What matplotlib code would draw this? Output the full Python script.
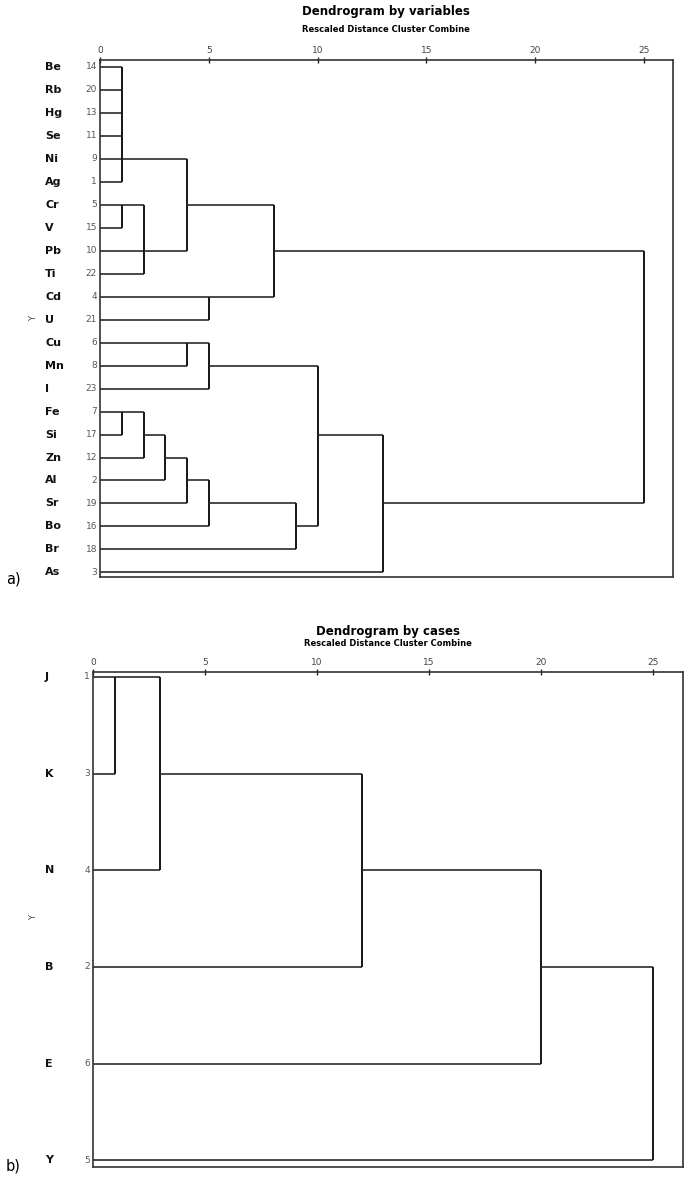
import matplotlib
matplotlib.use("Agg")
import matplotlib.pyplot as plt
import matplotlib.transforms as mtransforms

# --- dendrogram by variables ---
var_labels = ["Be", "Rb", "Hg", "Se", "Ni", "Ag", "Cr", "V", "Pb", "Ti", "Cd", "U",
              "Cu", "Mn", "I", "Fe", "Si", "Zn", "Al", "Sr", "Bo", "Br", "As"]
var_numbers = [14, 20, 13, 11, 9, 1, 5, 15, 10, 22, 4, 21,
               6, 8, 23, 7, 17, 12, 2, 19, 16, 18, 3]
# (cluster name, members, rescaled distance, row the cluster continues on)
var_merges = [
    ("c1", ["Be", "Rb", "Hg", "Se", "Ni", "Ag"], 1, "Ni"),
    ("c2", ["Cr", "V"], 1, "Cr"),
    ("c3", ["c2", "Pb", "Ti"], 2, "Pb"),
    ("c4", ["c1", "c3"], 4, "Cr"),
    ("c5", ["Cd", "U"], 5, "Cd"),
    ("c6", ["c4", "c5"], 8, "Pb"),
    ("c7", ["Cu", "Mn"], 4, "Cu"),
    ("c8", ["c7", "I"], 5, "Mn"),
    ("c9", ["Fe", "Si"], 1, "Fe"),
    ("c10", ["c9", "Zn"], 2, "Si"),
    ("c11", ["c10", "Al"], 3, "Zn"),
    ("c12", ["c11", "Sr"], 4, "Al"),
    ("c13", ["c12", "Bo"], 5, "Sr"),
    ("c14", ["c13", "Br"], 9, "Bo"),
    ("c15", ["c8", "c14"], 10, "Si"),
    ("c16", ["c15", "As"], 13, "Sr"),
    ("c17", ["c6", "c16"], 25, None),
]

# --- dendrogram by cases ---
case_labels = ["J", "K", "N", "B", "E", "Y"]
case_numbers = [1, 3, 4, 2, 6, 5]
case_merges = [
    ("c1", ["J", "K"], 1, "J"),
    ("c2", ["c1", "N"], 3, "K"),
    ("c3", ["c2", "B"], 12, "N"),
    ("c4", ["c3", "E"], 20, "B"),
    ("c5", ["c4", "Y"], 25, None),
]

ticks = [0, 5, 10, 15, 20, 25]

W, H = 685, 1177
fig = plt.figure(figsize=(W / 100, H / 100), dpi=100)


def draw_dendro(ax, labels, numbers, merges, name_x, num_x):
    row = {lab: i for i, lab in enumerate(labels)}
    height = {lab: 0 for lab in labels}
    for name, members, h, rep in merges:
        rows = []
        for m in members:
            r = row[m]
            ax.plot([height[m], h], [r, r], color="#2a2a2a", lw=1.2,
                    solid_capstyle="butt")
            rows.append(r)
        ax.plot([h, h], [min(rows), max(rows)], color="#151515", lw=1.4,
                solid_capstyle="butt")
        if rep is not None:
            row[name] = row[rep]
            height[name] = h
    trans = mtransforms.blended_transform_factory(fig.transFigure, ax.transData)
    for i, (lab, num) in enumerate(zip(labels, numbers)):
        ax.text(name_x / W, i, lab, transform=trans, ha="left", va="center",
                fontsize=8, fontweight="bold", color="#111111")
        ax.text(num_x / W, i, str(num), transform=trans, ha="right",
                va="center", fontsize=6.5, color="#555555")
    ax.set_xticks(ticks)
    ax.set_xticklabels([str(t) for t in ticks])
    ax.xaxis.tick_top()
    ax.tick_params(axis="x", direction="inout", length=5, width=1, pad=1,
                   labelsize=6.5, labelcolor="#444444", color="#222222")
    ax.set_yticks([])
    for s in ax.spines.values():
        s.set_color("#333333")
        s.set_linewidth(1.2)


def px_axes(left, top, right, bottom):
    return fig.add_axes([left / W, 1 - bottom / H, (right - left) / W,
                         (bottom - top) / H])


# top panel
ax1 = px_axes(100, 60, 673, 577)
draw_dendro(ax1, var_labels, var_numbers, var_merges, 45, 97)
ax1.set_xlim(0, (673 - 100) / 21.76)
ax1.set_ylim(22.2, -0.3)
fig.text(386 / W, 1 - 12 / H, "Dendrogram by variables", ha="center",
         va="center", fontsize=8.5, fontweight="bold")
fig.text(386 / W, 1 - 30 / H, "Rescaled Distance Cluster Combine",
         ha="center", va="center", fontsize=6, fontweight="bold")
fig.text(34 / W, 1 - 319 / H, "Y", rotation=90, ha="center", va="center",
         fontsize=6, color="#444444")
fig.text(6 / W, 1 - 579 / H, "a)", ha="left", va="center", fontsize=10.5)

# bottom panel
ax2 = px_axes(93, 672, 683, 1167)
draw_dendro(ax2, case_labels, case_numbers, case_merges, 45, 90)
ax2.set_xlim(0, (683 - 93) / 22.4)
ax2.set_ylim(5.07, -0.05)
fig.text(388 / W, 1 - 631 / H, "Dendrogram by cases", ha="center",
         va="center", fontsize=8.5, fontweight="bold")
fig.text(388 / W, 1 - 644 / H, "Rescaled Distance Cluster Combine",
         ha="center", va="center", fontsize=6, fontweight="bold")
fig.text(34 / W, 1 - 918 / H, "Y", rotation=90, ha="center", va="center",
         fontsize=6, color="#444444")
fig.text(6 / W, 1 - 1166 / H, "b)", ha="left", va="center", fontsize=10.5)

fig.savefig("out.png", dpi=100)
